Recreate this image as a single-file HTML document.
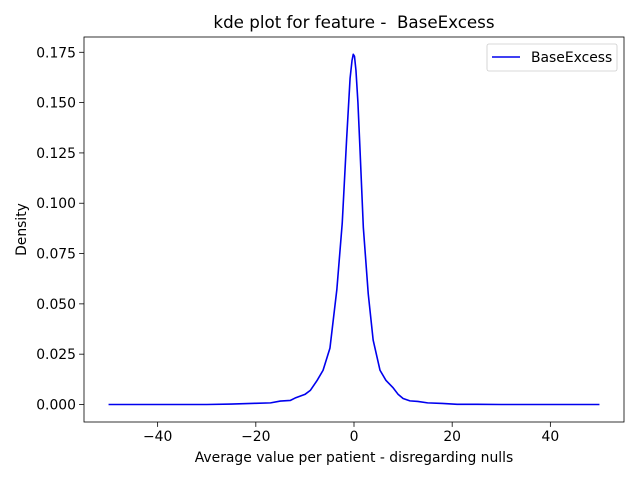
<!DOCTYPE html>
<html><head><meta charset="utf-8"><style>
body{margin:0;background:#fff;}
svg text{font-family:"DejaVu Sans","Liberation Sans",sans-serif;fill:#000;white-space:pre;}
</style></head><body>
<svg width="640" height="480" viewBox="0 0 640 480">
<rect width="640" height="480" fill="#fff"/>
<g id="plot"></g>
</svg>
<script>
const xTicks=[-40,-20,0,20,40];
const xTickLabels=["\u221240","\u221220","0","20","40"];
const yTicks=[0,0.025,0.05,0.075,0.1,0.125,0.15,0.175];
const yTickLabels=["0.000","0.025","0.050","0.075","0.100","0.125","0.150","0.175"];
const xVals=[-50,-40,-30,-25,-20,-17,-15,-13,-12,-10,-8.9,-7.5,-6.3,-4.9,-3.5,-2.4,-1.5,-0.8,-0.4,-0.15,0.1,0.4,0.8,1.2,1.9,2.9,3.9,5.3,6.5,7.9,9,10,11.4,13,15,18,21,25,30,40,50];
const yVals=[0,0,0,0.0002,0.0006,0.0008,0.0017,0.002,0.0032,0.005,0.007,0.012,0.017,0.028,0.057,0.090,0.132,0.162,0.171,0.174,0.173,0.166,0.150,0.128,0.088,0.055,0.032,0.017,0.012,0.0085,0.005,0.003,0.0018,0.0015,0.0008,0.0005,0.0001,0.0001,0,0,0];
const L=84,R=624,T=37,B=422;
const X0=-55,X1=55,Y0=-0.0087,Y1=0.1826;
function sx(v){return L+(v-X0)/(X1-X0)*(R-L);}
function sy(v){return B-(v-Y0)/(Y1-Y0)*(B-T);}
const g=document.getElementById('plot');
const NS='http://www.w3.org/2000/svg';
function mk(t,a,txt){const e=document.createElementNS(NS,t);for(const k in a)e.setAttribute(k,a[k]);if(txt!==undefined)e.textContent=txt;g.appendChild(e);return e;}
let d='';
xVals.forEach((x,i)=>{d+=(i?'L':'M')+sx(x).toFixed(2)+' '+sy(yVals[i]).toFixed(2);});
const line=mk('path',{d:d,fill:'none',stroke:'#0000ee','stroke-width':1.6,'stroke-linejoin':'round'});


const frame=mk('rect',{x:L,y:T,width:R-L,height:B-T,fill:'none',stroke:'#000','stroke-width':0.8});


xTicks.forEach((v,i)=>{
 const x=sx(v);
 const tk=mk('line',{x1:x,x2:x,y1:B,y2:B+4.9,stroke:'#000','stroke-width':0.8});
 
 
 const lb=mk('text',{x:x,y:B+19,'text-anchor':'middle','font-size':13.9},xTickLabels[i]);
 
 
});
yTicks.forEach((v,i)=>{
 const y=sy(v);
 const tk=mk('line',{x1:L-4.9,x2:L,y1:y,y2:y,stroke:'#000','stroke-width':0.8});
 
 
 const lb=mk('text',{x:L-8,y:y+5,'text-anchor':'end','font-size':13.9},yTickLabels[i]);
 
 
});
const title=mk('text',{x:(L+R)/2,y:28,'text-anchor':'middle','font-size':16.7},'kde plot for feature -  BaseExcess');


const xt=mk('text',{x:(L+R)/2,y:462,'text-anchor':'middle','font-size':13.9},'Average value per patient - disregarding nulls');


const yt=mk('text',{x:0,y:0,'text-anchor':'middle','font-size':13.9,transform:'translate(26,'+((T+B)/2)+') rotate(-90)'},'Density');


const lg=mk('rect',{x:487,y:44,width:130,height:27,rx:2,fill:'#fff',stroke:'#ccc','stroke-width':0.8});


const ll=mk('line',{x1:492,x2:520,y1:57,y2:57,stroke:'#0000ee','stroke-width':1.6});


const lt=mk('text',{x:531,y:62,'font-size':13.9},'BaseExcess');


</script>
</body></html>
